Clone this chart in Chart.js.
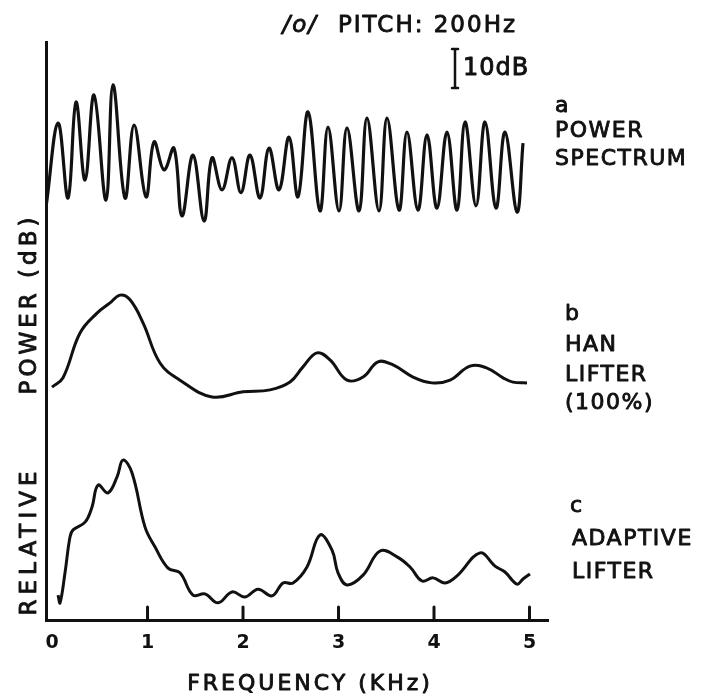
<!DOCTYPE html>
<html>
<head>
<meta charset="utf-8">
<script src="https://cdn.jsdelivr.net/npm/chart.js@4.4.1/dist/chart.umd.min.js"></script>
<style>
  html, body { margin: 0; padding: 0; background: #fff; }
  canvas { display: block; }
</style>
</head>
<body>
<canvas id="chart" width="710" height="696"></canvas>
<script>
// Tần số (kHz) và công suất tương đối (dB)
const xTicks = [0, 1, 2, 3, 4, 5];

// a - power spectrum
const freqA = [-0.06, 0.063, 0.168, 0.251, 0.346, 0.440, 0.565, 0.639, 0.764, 0.859, 0.984, 1.068, 1.173, 1.277, 1.361, 1.476, 1.592, 1.675, 1.780, 1.885, 1.979, 2.073, 2.178, 2.272, 2.377, 2.482, 2.576, 2.681, 2.806, 2.890, 3.005, 3.089, 3.215, 3.298, 3.424, 3.508, 3.634, 3.717, 3.832, 3.927, 4.031, 4.136, 4.241, 4.325, 4.440, 4.534, 4.649, 4.743, 4.869, 4.932];
const powerA = [106.4, 127.4, 108.2, 132.8, 112.8, 134.6, 107.7, 137.2, 108.2, 126.9, 108.5, 122.6, 115.4, 121.0, 103.6, 119.2, 102.3, 118.5, 110.3, 118.5, 109.6, 119.2, 108.2, 121.0, 110.3, 123.8, 108.5, 130.3, 104.9, 126.4, 104.9, 126.2, 104.9, 128.7, 104.9, 128.7, 105.1, 125.1, 105.1, 124.4, 105.6, 125.1, 105.1, 127.7, 106.2, 127.7, 105.6, 125.1, 104.6, 122.3];

// b - Han lifter (100%)
const freqB = [0, 0.115, 0.293, 0.471, 0.607, 0.712, 0.817, 0.953, 1.131, 1.340, 1.675, 2.000, 2.283, 2.492, 2.628, 2.775, 2.911, 3.089, 3.257, 3.414, 3.571, 3.780, 3.979, 4.168, 4.377, 4.555, 4.723, 4.827, 4.974];
const powerB = [59.7, 62.1, 73.6, 78.7, 81.3, 83.3, 82.1, 76.2, 65.9, 61.5, 57.2, 58.5, 59.0, 61.0, 64.9, 68.5, 66.7, 61.5, 62.3, 66.2, 65.4, 62.3, 60.8, 61.5, 65.1, 64.6, 62.1, 61.0, 60.8];

// c - adaptive lifter
const freqC = [0.063, 0.084, 0.136, 0.188, 0.220, 0.346, 0.419, 0.482, 0.586, 0.681, 0.743, 0.838, 0.974, 1.079, 1.215, 1.340, 1.476, 1.602, 1.738, 1.885, 2.021, 2.157, 2.304, 2.419, 2.524, 2.670, 2.806, 2.932, 2.995, 3.089, 3.257, 3.435, 3.613, 3.749, 3.874, 3.990, 4.115, 4.241, 4.482, 4.639, 4.743, 4.869, 4.932, 5.005];
const powerC = [6.4, 4.4, 12.1, 21.3, 23.1, 25.1, 29.0, 34.6, 32.6, 36.7, 41.0, 37.7, 23.8, 18.7, 13.3, 12.1, 6.4, 6.7, 4.4, 7.2, 5.9, 7.9, 6.2, 9.5, 9.5, 13.6, 21.8, 17.9, 12.1, 9.0, 11.5, 17.7, 16.2, 13.6, 10.0, 10.8, 9.5, 11.3, 17.2, 13.8, 12.3, 9.2, 10.5, 11.8];

const scaleBarDb = 10;
const INK = '#111';
const FONT = '"DejaVu Sans", sans-serif';

function toPoints(xs, ys) {
  return xs.map((x, i) => ({ x: x, y: ys[i] }));
}

function curve(xs, ys, width) {
  return {
    data: toPoints(xs, ys),
    borderColor: INK,
    borderWidth: width,
    pointRadius: 0,
    tension: 0.4,
    fill: false
  };
}

// Vẽ chữ, viền nhẹ cho giống bản scan
function drawText(ctx, str, x, y, size, align, style) {
  ctx.font = (style || '') + ' ' + size + 'px ' + FONT;
  ctx.textAlign = align || 'left';
  ctx.textBaseline = 'alphabetic';
  ctx.fillText(str, x, y);
  ctx.lineWidth = 0.9;
  ctx.strokeText(str, x, y);
}

const annotations = {
  id: 'annotations',
  afterDraw(chart) {
    const ctx = chart.ctx;
    const xs = chart.scales.x;
    const ys = chart.scales.y;
    ctx.save();
    ctx.fillStyle = INK;
    ctx.strokeStyle = INK;
    ctx.lineCap = 'round';
    ctx.lineJoin = 'round';

    // Vạch chia trục x, hướng lên trên
    ctx.lineWidth = 3;
    xTicks.filter(v => v > 0).forEach(v => {
      const px = xs.getPixelForValue(v);
      ctx.beginPath();
      ctx.moveTo(px, ys.bottom);
      ctx.lineTo(px, ys.bottom - 13);
      ctx.stroke();
    });

    // Thang 10 dB
    const barH = ys.getPixelForValue(0) - ys.getPixelForValue(scaleBarDb);
    const barX = 455, barBottom = 88;
    ctx.lineWidth = 2.5;
    ctx.beginPath();
    ctx.moveTo(barX, barBottom);
    ctx.lineTo(barX, barBottom - barH);
    ctx.moveTo(barX - 3, barBottom);
    ctx.lineTo(barX + 3, barBottom);
    ctx.moveTo(barX - 3, barBottom - barH);
    ctx.lineTo(barX + 3, barBottom - barH);
    ctx.stroke();

    ctx.letterSpacing = '1px';
    drawText(ctx, '10dB', 463, 75, 24);

    // Tiêu đề
    ctx.letterSpacing = '2px';
    drawText(ctx, 'PITCH: 200Hz', 517, 32, 23, 'right');
    drawText(ctx, '/o/', 318, 32, 23, 'right', 'italic');

    // Nhãn từng đường
    ctx.letterSpacing = '1.5px';
    drawText(ctx, 'a', 555, 112, 22);
    drawText(ctx, 'POWER', 555, 137, 22);
    drawText(ctx, 'SPECTRUM', 555, 165, 22);

    drawText(ctx, 'b', 565, 320, 22);
    drawText(ctx, 'HAN', 565, 351, 22);
    drawText(ctx, 'LIFTER', 565, 381, 22);
    drawText(ctx, '(100%)', 565, 409, 22);

    drawText(ctx, 'c', 570, 512, 22);
    drawText(ctx, 'ADAPTIVE', 572, 545, 22);
    drawText(ctx, 'LIFTER', 572, 578, 22);

    // Tên trục x
    ctx.letterSpacing = '3px';
    drawText(ctx, 'FREQUENCY (KHz)', 310, 690, 22, 'center');

    // Tên trục y (xoay dọc)
    ctx.save();
    ctx.translate(36, 0);
    ctx.rotate(-Math.PI / 2);
    ctx.letterSpacing = '5px';
    drawText(ctx, 'RELATIVE', -541, 0, 23, 'center');
    ctx.letterSpacing = '4px';
    drawText(ctx, 'POWER (dB)', -304, 0, 23, 'center');
    ctx.restore();

    ctx.restore();
  }
};

document.addEventListener('DOMContentLoaded', function() {
  const ctx = document.getElementById('chart').getContext('2d');

  new Chart(ctx, {
    type: 'line',
    data: {
      datasets: [
        curve(freqA, powerA, 3.2),
        curve(freqB, powerB, 3),
        curve(freqC, powerC, 3)
      ]
    },
    options: {
      responsive: false,
      animation: false,
      layout: {
        padding: { top: 42.8, right: 161.4, left: 0, bottom: 0 }
      },
      plugins: {
        legend: { display: false },
        tooltip: { enabled: false }
      },
      scales: {
        x: {
          type: 'linear',
          min: -0.06,
          max: 5.2,
          grid: { display: false, drawTicks: false },
          border: { display: true, color: INK, width: 3 },
          afterBuildTicks: function(scale) {
            scale.ticks = xTicks.map(v => ({ value: v }));
          },
          afterFit: function(scale) {
            scale.height = 76;
          },
          ticks: {
            color: INK,
            padding: 12,
            font: { family: 'DejaVu Sans', size: 19, weight: 'bold' },
            callback: function(value) {
              return String(value);
            }
          }
        },
        y: {
          type: 'linear',
          min: 0,
          max: 148,
          grid: { display: false, drawTicks: false },
          border: { display: true, color: INK, width: 3 },
          ticks: { display: false },
          afterFit: function(scale) {
            scale.width = 46.3;
          }
        }
      }
    },
    plugins: [annotations]
  });
});
</script>
</body>
</html>
